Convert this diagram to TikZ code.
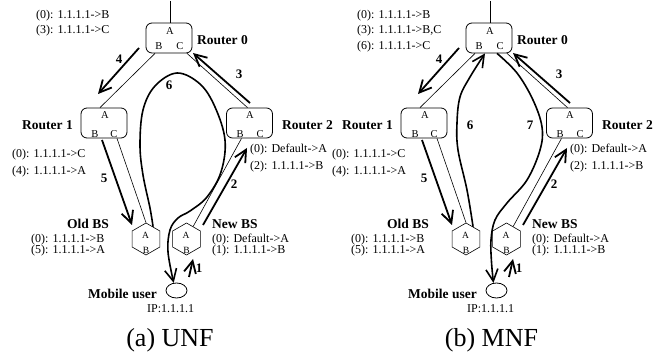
\documentclass[tikz,border=0pt]{standalone}
\usepackage{fontspec}
\setmainfont{Liberation Serif}
\usetikzlibrary{arrows.meta,shapes.geometric}
\tikzset{
 router/.style={draw, line width=0.8pt, rounded corners=6pt, minimum width=46pt, minimum height=30pt, inner sep=0pt},
 bs/.style={draw, line width=0.6pt, regular polygon, regular polygon sides=6, shape border rotate=30, minimum size=32pt, inner sep=0pt},
 mobile/.style={draw, line width=0.8pt, ellipse, minimum width=21pt, minimum height=15pt, inner sep=0pt},
 port/.style={font=\fontsize{10.5}{10.5}\selectfont, inner sep=0pt},
 hport/.style={font=\fontsize{9.5}{9.5}\selectfont, inner sep=0pt},
 tab/.style={font=\fontsize{12}{12}\selectfont, inner sep=0pt, anchor=west},
 lbl/.style={font=\fontsize{13.5}{13.5}\selectfont\bfseries, inner sep=0pt},
 num/.style={font=\fontsize{13}{13}\selectfont\bfseries, inner sep=0pt},
 link/.style={line width=0.6pt},
 flow/.style={line width=1.8pt, -{Straight Barb[length=12pt,width=12pt]}},
 loopflow/.style={line width=1.6pt, -{Straight Barb[length=12pt,width=12pt]}},
 captext/.style={font=\fontsize{26}{26}\selectfont, inner sep=0pt},
}
\newcommand\panelbase{%
 % routers
 \node[router] (r0) at (169,38) {};
 \node[port] (r0a) at (170,31) {A};
 \node[port] (r0b) at (159,46) {B};
 \node[port] (r0c) at (180,46) {C};
 \node[lbl, anchor=west] (r0l) at (197,40) {Router 0};
 \coordinate (up) at (170,1);
 \draw[link] (up) -- (up |- r0.north);
 \node[router] (r1) at (104,123) {};
 \node[port] (r1a) at (105,115) {A};
 \node[port] (r1b) at (95,134) {B};
 \node[port] (r1c) at (114,134) {C};
 \node[lbl, anchor=east] (r1l) at (73,125) {Router 1};
 \node[router] (r2) at (249.5,123) {};
 \node[port] (r2a) at (250,115) {A};
 \node[port] (r2b) at (240,134) {B};
 \node[port] (r2c) at (260,134) {C};
 \node[lbl, anchor=west] (r2l) at (282,125) {Router 2};
 \node[tab] (t1a) at (12,155) {(0): 1.1.1.1->C};
 \node[tab] (t1b) at (12,172) {(4): 1.1.1.1->A};
 \node[tab] (t2a) at (250,150) {(0): Default->A};
 \node[tab] (t2b) at (250,167) {(2): 1.1.1.1->B};
 % base stations
 \node[bs] (old) at (146,239) {};
 \node[hport] (olda) at (145.5,235) {A};
 \node[hport] (oldb) at (146,250) {B};
 \node[bs] (new) at (186.5,239) {};
 \node[hport] (newa) at (186,235) {A};
 \node[hport] (newb) at (186.5,250) {B};
 \node[lbl, anchor=east] (oldl) at (109,224) {Old BS};
 \node[lbl, anchor=west] (newl) at (212,224) {New BS};
 \node[tab] (tOa) at (31,240) {(0): 1.1.1.1->B};
 \node[tab] (tOb) at (31,251) {(5): 1.1.1.1->A};
 \node[tab] (tNa) at (212,240) {(0): Default->A};
 \node[tab] (tNb) at (212,251) {(1): 1.1.1.1->B};
 % mobile
 \node[mobile] (mu) at (176.5,290.5) {};
 \node[lbl, anchor=east] (mul) at (157,294) {Mobile user};
 \node[tab] (ip) at (147,309) {IP:1.1.1.1};
 % links
 \draw[link] ([xshift=-14pt]r0.south) -- ([xshift=-4pt]r1.north);
 \draw[link] ([xshift=18pt]r0.south) -- ([xshift=-2pt]r2.north);
 \draw[link] ([xshift=13pt]r1.south) -- (old.north);
 \draw[link] ([xshift=-8pt]r2.south) -- (new.62);
 % flows
 \coordinate (f4s) at (139,48); \coordinate (f4e) at (98,94);
 \draw[flow] (f4s) -- (f4e);
 \node[num] (n4) at (119,59) {4};
 \coordinate (f3s) at (250,103); \coordinate (f3e) at (193,53);
 \draw[flow] (f3s) -- (f3e);
 \node[num] (n3) at (239,74) {3};
 \coordinate (f5s) at (102,140); \coordinate (f5e) at (132,225);
 \draw[flow] (f5s) -- (f5e);
 \node[num] (n5) at (104,178) {5};
 \coordinate (f2s) at (203,225); \coordinate (f2e) at (247,148);
 \draw[flow] (f2s) -- (f2e);
 \node[num] (n2) at (234,184) {2};
 \coordinate (f1s) at (189,277); \coordinate (f1e) at (193,259);
 \draw[flow] (f1s) -- (f1e);
 \node[num] (n1) at (199,268) {1};
}
\begin{document}
\begin{tikzpicture}[x=1pt,y=-1pt]
\useasboundingbox (0,0) rectangle (659,358);
\begin{scope}[name prefix=L-]
 \panelbase
 \node[tab] (t0a) at (36,15.5) {(0): 1.1.1.1->B};
 \node[tab] (t0b) at (36,31) {(3): 1.1.1.1->C};
 \draw[loopflow] plot[smooth, tension=0.6] coordinates {(old.60) (150,208) (143,175) (140,145) (143,110) (155,86) (177,73) (200,84) (215,107) (225,140) (221,172) (207,197) (190,211) (178,218) (170,230) (168,252) (mu.110)};
 \node[num] (n6) at (169,85) {6};
 \node[captext] (cap) at (170,340) {(a) UNF};
\end{scope}
\begin{scope}[xshift=320pt, name prefix=R-]
 \panelbase
 \node[tab] (t0a) at (37,15.5) {(0): 1.1.1.1->B};
 \node[tab] (t0b) at (37,31) {(3): 1.1.1.1->B,C};
 \node[tab] (t0c) at (37,46.5) {(6): 1.1.1.1->C};
 \draw[loopflow] plot[smooth, tension=0.6] coordinates {(old.60) (147,190) (138,150) (137,123) (140,97) (150,77) ([xshift=-4pt]r0.south)};
 \draw[loopflow] plot[smooth, tension=0.6] coordinates {([xshift=8pt]r0.south) (197,73) (213,100) (222,127) (220,150) (207,180) (187,203) (175,220) (171,240) (171.5,262) (mu.112)};
 \node[num] (n6) at (150,125) {6};
 \node[num] (n7) at (210,125) {7};
 \node[captext] (cap) at (171.5,340) {(b) MNF};
\end{scope}
\end{tikzpicture}
\end{document}
